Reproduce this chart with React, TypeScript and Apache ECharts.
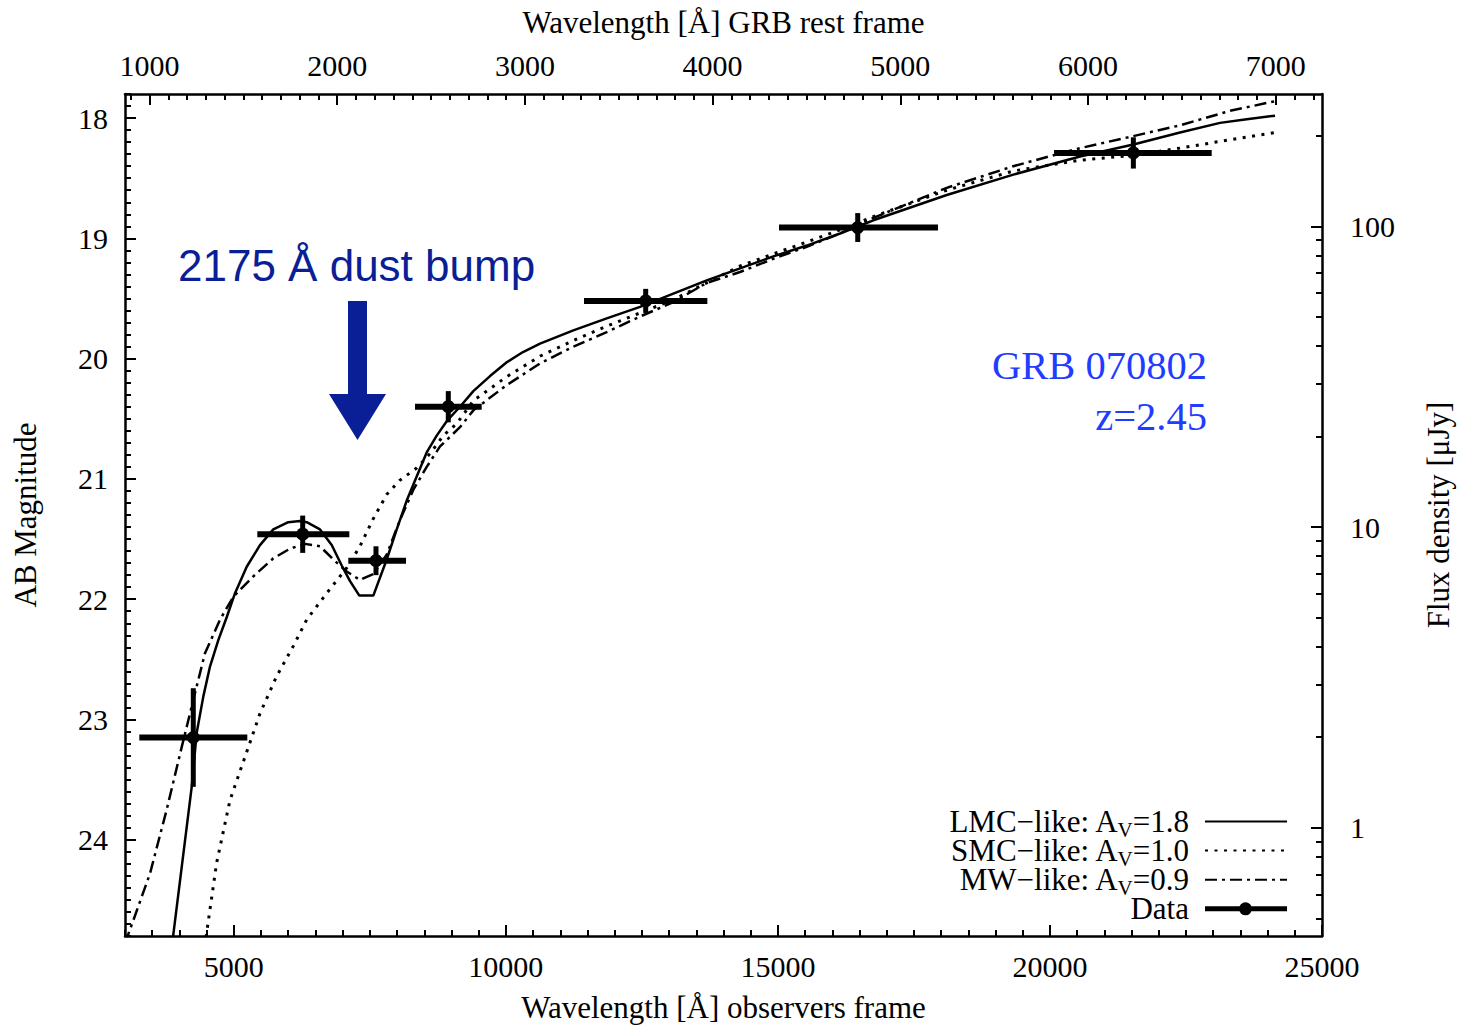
import React, { useEffect, useRef } from 'react';
import * as echarts from 'echarts';

// ---- axes ----
const redshift = 2.45;
const waveMin = 3000;
const waveMax = 25000;
const magTop = 17.8;
const magBottom = 24.8;
const abZeroPoint = 23.9; // AB mag of 1 microJansky
const obsTicks = [5000, 10000, 15000, 20000, 25000];
const restTicks = [1000, 2000, 3000, 4000, 5000, 6000, 7000];
const magTicks = [18, 19, 20, 21, 22, 23, 24];
const fluxTicks = [1, 10, 100];
const fluxMinorTicks = [0.5, 0.6, 0.7, 0.8, 0.9, 2, 3, 4, 5, 6, 7, 8, 9, 20, 30, 40, 50, 60, 70, 80, 90, 200];

// ---- photometry (observed wavelength, AB mag) ----
const obsWave = [4255, 6266, 7613, 8942, 12570, 16467, 21533];
const abMag = [23.15, 21.46, 21.68, 20.40, 19.52, 18.91, 18.29];
const waveLow = [3263, 5432, 7104, 8330, 11436, 15020, 20075];
const waveHigh = [5248, 7123, 8165, 9556, 13703, 17943, 22973];
const magErr = [0.41, 0.155, 0.12, 0.13, 0.10, 0.12, 0.13];

// ---- extinguished power-law models ----
const lmcWave = [3882, 4226, 4318, 4439, 4562, 4715, 4869, 5022, 5237, 5481, 5726, 6001, 6217, 6340, 6584, 6799, 6983, 7136, 7307, 7564, 7810, 7994, 8178, 8361, 8545, 8729, 8913, 9157, 9402, 9709, 10016, 10315, 10628, 11240, 11854, 12466, 13078, 13692, 14304, 14916, 15530, 16142, 16754, 18103, 19327, 20553, 21533, 22391, 23126, 23617, 24137];
const lmcMag = [24.81, 23.56, 23.11, 22.81, 22.56, 22.34, 22.15, 21.95, 21.73, 21.55, 21.42, 21.36, 21.35, 21.36, 21.42, 21.55, 21.72, 21.85, 21.97, 21.97, 21.67, 21.42, 21.18, 20.98, 20.78, 20.64, 20.52, 20.40, 20.27, 20.145, 20.03, 19.945, 19.875, 19.765, 19.665, 19.57, 19.46, 19.35, 19.25, 19.15, 19.06, 18.96, 18.85, 18.64, 18.47, 18.32, 18.22, 18.12, 18.04, 18.01, 17.98];

const smcWave = [4489, 4685, 4930, 5206, 5481, 5788, 6093, 6340, 6707, 7075, 7319, 7564, 7810, 8055, 8361, 8606, 8850, 9097, 9402, 10016, 10628, 11240, 11854, 12466, 13078, 13692, 14304, 14916, 15530, 16142, 16754, 18103, 19327, 20553, 21533, 22391, 23310, 24137];
const smcMag = [24.81, 24.19, 23.67, 23.31, 22.95, 22.64, 22.39, 22.17, 21.95, 21.74, 21.56, 21.33, 21.13, 21.01, 20.91, 20.79, 20.64, 20.54, 20.35, 20.15, 19.98, 19.85, 19.73, 19.62, 19.51, 19.37, 19.23, 19.13, 19.03, 18.93, 18.82, 18.60, 18.44, 18.35, 18.31, 18.25, 18.18, 18.12];

const mwWave = [3000, 3153, 3460, 3766, 4042, 4287, 4470, 4746, 4991, 5358, 5726, 6033, 6308, 6584, 6829, 7075, 7319, 7564, 7810, 8055, 8300, 8545, 8790, 9157, 9402, 10016, 10628, 11240, 11854, 12466, 13078, 13692, 14304, 14916, 15530, 16142, 16754, 18103, 19327, 20553, 21533, 22391, 23310, 24137];
const mwMag = [24.86, 24.67, 24.28, 23.75, 23.23, 22.78, 22.45, 22.17, 21.98, 21.81, 21.66, 21.58, 21.54, 21.56, 21.67, 21.77, 21.84, 21.79, 21.63, 21.34, 21.09, 20.90, 20.73, 20.57, 20.43, 20.22, 20.04, 19.90, 19.78, 19.65, 19.53, 19.37, 19.28, 19.17, 19.07, 18.96, 18.83, 18.58, 18.40, 18.25, 18.15, 18.06, 17.94, 17.86];

const legendLabels: Record<string, string> = {
  LMC: '{m|LMC\u2212like: A}{s|V}{e|=1.8}',
  SMC: '{m|SMC\u2212like: A}{s|V}{e|=1.0}',
  MW: '{m|MW\u2212like: A}{s|V}{e|=0.9}',
  Data: '{s| }{e|Data}',
};

const SERIF = "'Liberation Serif', 'Times New Roman', serif";
const SANS = "'Liberation Sans', Arial, sans-serif";

export default function App() {
  const ref = useRef<HTMLDivElement>(null);

  useEffect(() => {
    if (!ref.current) return;
    const chart = echarts.init(ref.current, null, { renderer: 'svg' });

    const restMinor: number[] = [];
    for (let v = 900; v <= 7200; v += 100) restMinor.push(v);

    const fluxMin = Math.pow(10, (abZeroPoint - magBottom) / 2.5);
    const fluxMax = Math.pow(10, (abZeroPoint - magTop) / 2.5);

    const zip = (a: number[], b: number[]) => a.map((v, i) => [v, b[i]]);
    const dataRows = obsWave.map((w, i) => [w, abMag[i], waveLow[i], waveHigh[i], magErr[i]]);

    const plain = (v: number) => String(v);
    const axisLine = { show: true, onZero: false, lineStyle: { color: '#000', width: 2.5 } };
    const majorTick = (vals: number[]) => ({ show: true, inside: true, length: 11, customValues: vals, lineStyle: { color: '#000', width: 2 } });
    const labelStyle = { color: '#000', fontFamily: SERIF, fontSize: 30, formatter: plain };
    const nameStyle = { color: '#000', fontFamily: SERIF, fontSize: 31 };
    const hiddenSymbol = { color: 'rgba(0,0,0,0)', borderColor: 'rgba(0,0,0,0)', borderWidth: 0 };

    const option: any = {
      animation: false,
      backgroundColor: '#fff',
      grid: { left: 125, right: 143, top: 94, bottom: 92, containLabel: false },
      xAxis: [
        {
          type: 'value', position: 'bottom', min: waveMin, max: waveMax,
          axisLine, axisTick: majorTick(obsTicks),
          axisLabel: { ...labelStyle, customValues: obsTicks, margin: 15 },
          splitLine: { show: false },
          name: 'Wavelength [Å] observers frame', nameLocation: 'middle', nameGap: 56, nameTextStyle: nameStyle,
        },
        {
          type: 'value', position: 'bottom', min: waveMin, max: waveMax, interval: 500,
          axisLine: { show: false }, axisLabel: { show: false }, splitLine: { show: false },
          axisTick: { show: true, inside: true, length: 6, lineStyle: { color: '#000', width: 2 } },
        },
        {
          type: 'value', position: 'top', min: waveMin / (1 + redshift), max: waveMax / (1 + redshift),
          axisLine, axisTick: majorTick(restTicks),
          axisLabel: { ...labelStyle, customValues: restTicks, margin: 14 },
          splitLine: { show: false },
          name: 'Wavelength [Å] GRB rest frame', nameLocation: 'middle', nameGap: 56, nameTextStyle: nameStyle,
        },
        {
          type: 'value', position: 'top', min: waveMin / (1 + redshift), max: waveMax / (1 + redshift),
          axisLine: { show: false }, axisLabel: { show: false }, splitLine: { show: false },
          axisTick: { show: true, inside: true, length: 6, customValues: restMinor, lineStyle: { color: '#000', width: 2 } },
        },
      ],
      yAxis: [
        {
          type: 'value', position: 'left', inverse: true, min: magTop, max: magBottom,
          axisLine, axisTick: majorTick(magTicks),
          axisLabel: { ...labelStyle, customValues: magTicks, margin: 17 },
          splitLine: { show: false },
          name: 'AB Magnitude', nameLocation: 'middle', nameGap: 84, nameRotate: 90, nameTextStyle: nameStyle,
        },
        {
          type: 'log', logBase: 10, position: 'right', min: fluxMin, max: fluxMax,
          axisLine, axisTick: majorTick(fluxTicks),
          axisLabel: { ...labelStyle, customValues: fluxTicks, margin: 28 },
          splitLine: { show: false },
          name: 'Flux density [μJy]', nameLocation: 'middle', nameGap: 101, nameRotate: 90, nameTextStyle: nameStyle,
        },
        {
          type: 'value', position: 'left', inverse: true, min: magTop, max: magBottom, interval: 0.1,
          axisLine: { show: false }, axisLabel: { show: false }, splitLine: { show: false },
          axisTick: { show: true, inside: true, length: 6, lineStyle: { color: '#000', width: 2 } },
        },
        {
          type: 'log', logBase: 10, position: 'right', min: fluxMin, max: fluxMax,
          axisLine: { show: false }, axisLabel: { show: false }, splitLine: { show: false },
          axisTick: { show: true, inside: true, length: 6, customValues: fluxMinorTicks, lineStyle: { color: '#000', width: 2 } },
        },
      ],
      legend: {
        orient: 'vertical', align: 'right', right: 177, top: 803, padding: 0,
        itemWidth: 82, itemHeight: 14, itemGap: -7.9, selectedMode: false,
        data: [
          { name: 'LMC', itemStyle: hiddenSymbol },
          { name: 'SMC', itemStyle: hiddenSymbol },
          { name: 'MW', itemStyle: hiddenSymbol },
          { name: 'Data', icon: 'path://M0,5 L82,5 L82,10 L0,10 Z M34,7.5 A6.5,6.5 0 1,1 47,7.5 A6.5,6.5 0 1,1 34,7.5 Z' },
        ],
        formatter: (name: string) => legendLabels[name] || name,
        textStyle: {
          color: '#000', fontFamily: SERIF, fontSize: 31,
          rich: {
            m: { color: '#000', fontFamily: SERIF, fontSize: 31, lineHeight: 26, verticalAlign: 'middle' },
            e: { color: '#000', fontFamily: SERIF, fontSize: 31, lineHeight: 26, verticalAlign: 'middle', padding: [0, 11, 0, 0] },
            s: { color: '#000', fontFamily: SERIF, fontSize: 21, lineHeight: 10, verticalAlign: 'middle', padding: [16, 0, 0, 0] },
          },
        },
      },
      graphic: [
        { type: 'text', x: 178, y: 265, style: { text: '2175 Å dust bump', fontFamily: SANS, fontSize: 44, fill: '#0a1e96', align: 'left', verticalAlign: 'middle' } },
        { type: 'polygon', shape: { points: [[348, 301], [367, 301], [367, 394], [386, 394], [357.5, 440], [329, 394], [348, 394]] }, style: { fill: '#0a1e96' } },
        { type: 'text', x: 1207, y: 365, style: { text: 'GRB 070802', fontFamily: SERIF, fontSize: 40.5, fill: '#1f3cff', align: 'right', verticalAlign: 'middle' } },
        { type: 'text', x: 1207, y: 416, style: { text: 'z=2.45', fontFamily: SERIF, fontSize: 40.5, fill: '#1f3cff', align: 'right', verticalAlign: 'middle' } },
      ],
      series: [
        {
          name: 'LMC', type: 'line', xAxisIndex: 0, yAxisIndex: 0, data: zip(lmcWave, lmcMag),
          showSymbol: false, symbol: 'none', clip: true, z: 3,
          lineStyle: { color: '#000', width: 2.5, type: 'solid' }, itemStyle: { color: '#000' },
        },
        {
          name: 'SMC', type: 'line', xAxisIndex: 0, yAxisIndex: 0, data: zip(smcWave, smcMag),
          showSymbol: false, symbol: 'none', clip: true, z: 3,
          lineStyle: { color: '#000', width: 3, type: [3, 6.5], cap: 'butt' }, itemStyle: { color: '#000' },
        },
        {
          name: 'MW', type: 'line', xAxisIndex: 0, yAxisIndex: 0, data: zip(mwWave, mwMag),
          showSymbol: false, symbol: 'none', clip: true, z: 3,
          lineStyle: { color: '#000', width: 2.5, type: [12, 5, 3, 5], cap: 'butt' }, itemStyle: { color: '#000' },
        },
        {
          name: 'Data', type: 'custom', xAxisIndex: 0, yAxisIndex: 0, data: dataRows, z: 5,
          encode: { x: 0, y: 1 }, itemStyle: { color: '#000' },
          renderItem: (params: any, api: any) => {
            const w = api.value(0), m = api.value(1), lo = api.value(2), hi = api.value(3), e = api.value(4);
            const c = api.coord([w, m]);
            const pl = api.coord([lo, m]);
            const pr = api.coord([hi, m]);
            const pt = api.coord([w, m - e]);
            const pb = api.coord([w, m + e]);
            return {
              type: 'group',
              children: [
                { type: 'line', shape: { x1: pl[0], y1: pl[1], x2: pr[0], y2: pr[1] }, style: { stroke: '#000', lineWidth: 6 } },
                { type: 'line', shape: { x1: pt[0], y1: pt[1], x2: pb[0], y2: pb[1] }, style: { stroke: '#000', lineWidth: 5 } },
                { type: 'circle', shape: { cx: c[0], cy: c[1], r: 6.5 }, style: { fill: '#000' } },
              ],
            };
          },
        },
      ],
    };

    chart.setOption(option);
    return () => chart.dispose();
  }, []);

  return <div ref={ref} style={{ position: 'absolute', left: 0, top: 0, width: 1465, height: 1028 }} />;
}
